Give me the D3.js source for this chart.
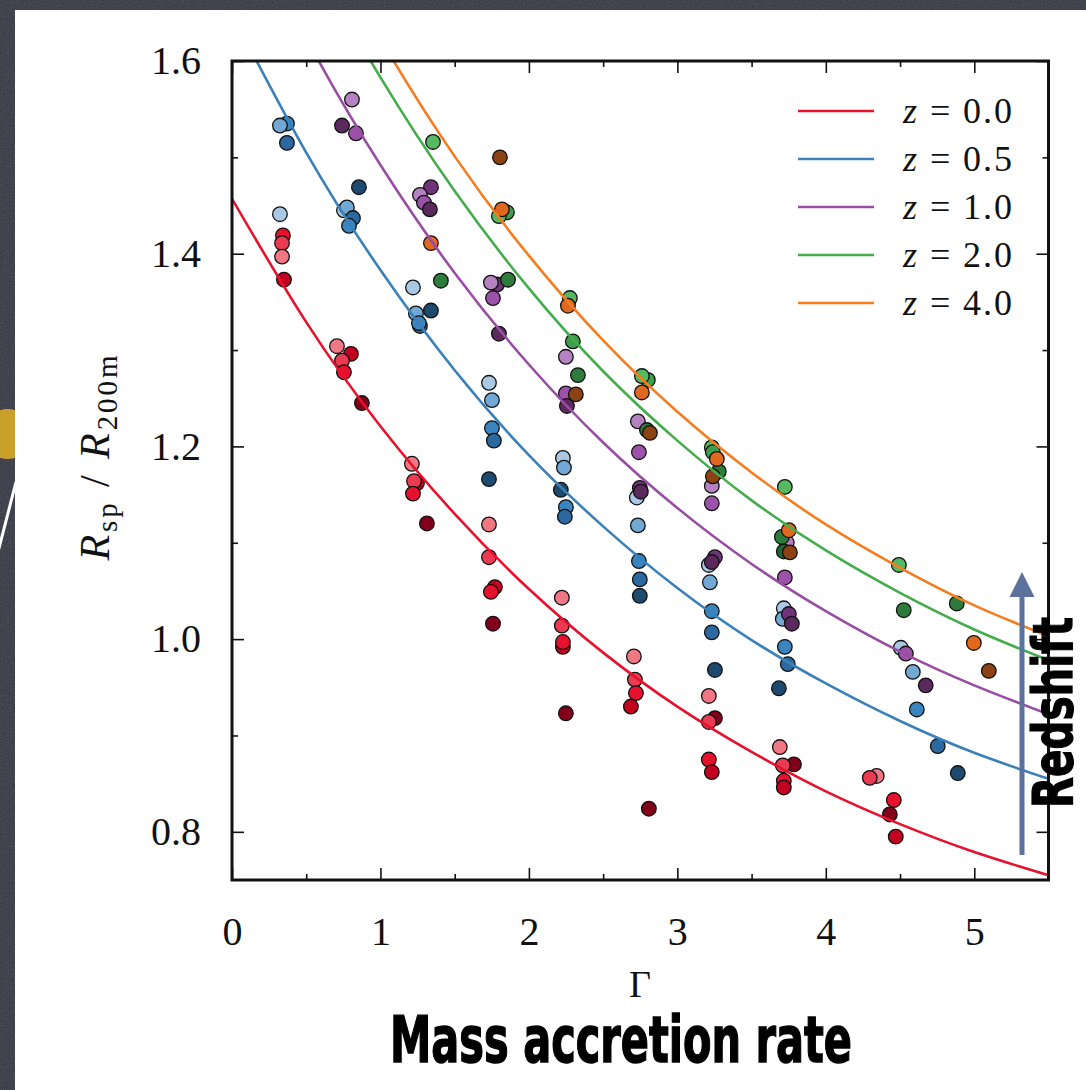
<!DOCTYPE html>
<html>
<head>
<meta charset="utf-8">
<script src="https://cdn.jsdelivr.net/npm/d3@7"></script>
<style>
  html, body { margin: 0; padding: 0; background: #393946; }
  svg { display: block; }
</style>
</head>
<body>
<svg id="chart" width="1086" height="1090"></svg>
<script>
// ---- data -------------------------------------------------------------
// Accretion-rate samples along each fitted curve
const curveGamma = [0, 0.5, 1.0, 1.5, 2.0, 2.5, 3.0, 3.5, 4.0, 4.5, 5.0, 5.5];
const fitZ00 = [1.457, 1.329, 1.221, 1.130, 1.052, 0.986, 0.930, 0.883, 0.842, 0.808, 0.779, 0.755];
const fitZ05 = [1.649, 1.505, 1.383, 1.279, 1.191, 1.117, 1.053, 0.999, 0.954, 0.915, 0.882, 0.855];
const fitZ10 = [1.779, 1.624, 1.492, 1.380, 1.285, 1.204, 1.136, 1.078, 1.029, 0.987, 0.952, 0.922];
const fitZ20 = [1.888, 1.723, 1.583, 1.465, 1.364, 1.278, 1.206, 1.144, 1.092, 1.048, 1.010, 0.978];
const fitZ40 = [1.936, 1.766, 1.623, 1.501, 1.398, 1.310, 1.236, 1.173, 1.119, 1.074, 1.035, 1.003];

const redshiftLabels = ["0.0", "0.5", "1.0", "2.0", "4.0"];

// Measured splashback radii: [Gamma, Rsp/R200m, mass bin]
const pointsZ00 = [
  [0.343,1.419,2],[0.337,1.411,1],[0.337,1.397,0],[0.350,1.373,3],
  [0.707,1.304,0],[0.801,1.296,3],[0.741,1.289,1],[0.754,1.277,2],[0.875,1.245,4],
  [1.212,1.182,0],[1.246,1.162,3],[1.226,1.164,1],[1.219,1.151,2],[1.313,1.120,4],
  [1.731,1.119,0],[1.731,1.085,1],[1.771,1.054,3],[1.744,1.049,2],[1.758,1.016,4],
  [2.222,1.043,0],[2.222,1.014,1],[2.229,0.992,3],[2.229,0.997,2],[2.249,0.923,4],
  [2.707,0.982,0],[2.714,0.958,1],[2.721,0.944,2],[2.687,0.930,3],[2.808,0.824,4],
  [3.212,0.941,0],[3.253,0.918,4],[3.212,0.914,1],[3.212,0.875,2],[3.232,0.862,3],
  [3.690,0.888,0],[3.785,0.870,4],[3.710,0.869,1],[3.717,0.853,2],[3.717,0.846,3],
  [4.343,0.858,0],[4.296,0.856,1],[4.458,0.833,2],[4.431,0.818,4],[4.471,0.795,3]
];
const pointsZ05 = [
  [0.370,1.535,2],[0.323,1.533,1],[0.370,1.515,3],[0.323,1.441,0],
  [0.754,1.445,0],[0.774,1.448,1],[0.815,1.437,3],[0.788,1.429,2],[0.855,1.469,4],
  [1.219,1.365,0],[1.239,1.338,1],[1.266,1.325,3],[1.259,1.328,2],[1.340,1.341,4],
  [1.731,1.266,0],[1.751,1.248,1],[1.751,1.219,2],[1.764,1.206,3],[1.731,1.166,4],
  [2.229,1.188,0],[2.236,1.178,1],[2.215,1.155,4],[2.249,1.137,2],[2.242,1.127,3],
  [2.727,1.147,0],[2.734,1.118,1],[2.741,1.081,2],[2.747,1.062,3],[2.747,1.045,4],
  [3.212,1.077,0],[3.219,1.059,1],[3.232,1.029,2],[3.232,1.007,3],[3.253,0.968,4],
  [3.717,1.032,0],[3.710,1.021,1],[3.724,0.992,2],[3.744,0.974,3],[3.684,0.949,4],
  [4.505,0.991,0],[4.586,0.966,1],[4.613,0.927,2],[4.754,0.889,3],[4.889,0.861,4]
];
const pointsZ10 = [
  [0.808,1.560,0],[0.741,1.533,3],[0.835,1.525,1],
  [1.340,1.469,2],[1.266,1.461,0],[1.293,1.453,1],[1.333,1.446,3],
  [1.785,1.368,2],[1.744,1.370,0],[1.758,1.354,1],[1.798,1.317,3],
  [2.249,1.293,0],[2.249,1.255,1],[2.256,1.242,3],
  [2.734,1.226,0],[2.741,1.194,1],[2.747,1.157,2],[2.754,1.153,3],
  [3.232,1.159,0],[3.232,1.141,1],[3.253,1.085,2],[3.232,1.080,3],
  [3.737,1.100,0],[3.724,1.064,1],[3.751,1.026,2],[3.771,1.016,3],
  [4.539,0.985,1],[4.673,0.952,3]
];
const pointsZ20 = [
  [1.354,1.516,0],[1.407,1.372,2],
  [1.852,1.443,1],[1.798,1.439,0],[1.859,1.373,2],
  [2.276,1.354,0],[2.296,1.309,1],[2.330,1.274,2],
  [2.801,1.269,1],[2.761,1.273,0],[2.795,1.217,2],
  [3.232,1.199,0],[3.239,1.194,1],[3.279,1.174,2],
  [3.724,1.158,0],[3.704,1.106,2],[3.717,1.091,3],
  [4.492,1.077,0],[4.525,1.030,2],
  [4.882,1.037,2]
];
const pointsZ40 = [
  [1.340,1.411,0],
  [1.805,1.500,1],[1.818,1.446,0],
  [2.263,1.346,0],[2.316,1.254,1],
  [2.761,1.256,0],[2.815,1.214,1],
  [3.266,1.187,0],[3.239,1.169,1],
  [3.751,1.113,0],[3.758,1.090,1],
  [4.997,0.996,0],[5.098,0.967,1]
];

const xTicks = [0, 1, 2, 3, 4, 5];
const xMinor = [0.5, 1.5, 2.5, 3.5, 4.5];
const yTicks = [0.8, 1.0, 1.2, 1.4, 1.6];
const yMinor = [0.9, 1.1, 1.3, 1.5];

// ---- styles ------------------------------------------------------------
const lineColors = ["#e8112d", "#3a80ba", "#984ea3", "#43ad4c", "#f57d20"];
const binColors = [
  ["#f27784", "#eb3b52", "#e8112d", "#c3001f", "#83001a"],
  ["#a8c8e3", "#72a8d3", "#3a84bf", "#2c69a0", "#1f4a6f"],
  ["#b681c0", "#9b52a8", "#6f3477", "#5b295e"],
  ["#55b961", "#3f9e4b", "#2e7c3b", "#236330"],
  ["#e0691f", "#8c4213"]
];
const fits = [fitZ00, fitZ05, fitZ10, fitZ20, fitZ40];
const pointSets = [pointsZ00, pointsZ05, pointsZ10, pointsZ20, pointsZ40];

const W = 1086, H = 1090;
const plot = { left: 232, top: 61, right: 1048.5, bottom: 880 };

const svg = d3.select("#chart");

// ---- slide backdrop ---------------------------------------------------
const defs = svg.append("defs");
const grain = defs.append("filter").attr("id", "grain")
  .attr("x", 0).attr("y", 0).attr("width", "100%").attr("height", "100%");
grain.append("feTurbulence").attr("type", "fractalNoise")
  .attr("baseFrequency", 0.9).attr("numOctaves", 2).attr("seed", 4);
grain.append("feColorMatrix").attr("type", "matrix")
  .attr("values", "0 0 0 0 1  0 0 0 0 1  0 0 0 0 1  0.33 0.33 0.33 0 -0.35");
svg.append("rect").attr("width", W).attr("height", H).attr("fill", "#393946");
svg.append("rect").attr("width", W).attr("height", H).attr("filter", "url(#grain)").attr("opacity", 0.35);
svg.append("circle").attr("cx", 8).attr("cy", 434).attr("r", 25).attr("fill", "#c9a12a");
svg.append("line").attr("x1", 16).attr("y1", 482).attr("x2", -2).attr("y2", 552)
  .attr("stroke", "#fff").attr("stroke-width", 3);
svg.append("rect").attr("x", 15).attr("y", 10).attr("width", W - 15).attr("height", H - 10).attr("fill", "#fff");

// ---- scales -------------------------------------------------------------
const x = d3.scaleLinear().domain([0, 5.5]).range([plot.left, plot.right]);
const y = d3.scaleLinear().domain([0.75, 1.6]).range([plot.bottom, plot.top]);

defs.append("clipPath").attr("id", "plotClip").append("rect")
  .attr("x", plot.left).attr("y", plot.top)
  .attr("width", plot.right - plot.left).attr("height", plot.bottom - plot.top);

// ---- points -------------------------------------------------------------
const marks = svg.append("g").attr("clip-path", "url(#plotClip)");
pointSets.forEach((pts, si) => {
  marks.append("g").selectAll("circle").data(pts).join("circle")
    .attr("cx", d => x(d[0]))
    .attr("cy", d => y(d[1]))
    .attr("r", 7.3)
    .attr("fill", d => binColors[si][d[2]])
    .attr("stroke", "#111")
    .attr("stroke-width", 1.3);
});

// ---- fitted curves --------------------------------------------------------
const line = d3.line()
  .x((d, i) => x(curveGamma[i]))
  .y(d => y(d))
  .curve(d3.curveNatural);
fits.forEach((f, i) => {
  marks.append("path").datum(f)
    .attr("d", line)
    .attr("fill", "none")
    .attr("stroke", lineColors[i])
    .attr("stroke-width", 2.6);
});

// ---- axes -----------------------------------------------------------------
const serif = "'Liberation Serif', 'DejaVu Serif', serif";
function styleAxis(g) {
  g.select(".domain").remove();
  g.selectAll(".tick line").attr("stroke", "#111").attr("stroke-width", 1.6);
  g.selectAll(".tick text").attr("font-family", serif).attr("font-size", 40).attr("fill", "#111");
}
svg.append("g").attr("transform", `translate(0,${plot.bottom})`)
  .call(d3.axisBottom(x).tickValues(xTicks).tickSize(-12).tickPadding(37).tickFormat(d3.format("d")))
  .call(styleAxis);
svg.append("g").attr("transform", `translate(0,${plot.bottom})`)
  .call(d3.axisBottom(x).tickValues(xMinor).tickSize(-6).tickFormat(""))
  .call(styleAxis);
svg.append("g").attr("transform", `translate(0,${plot.top})`)
  .call(d3.axisTop(x).tickValues(xTicks).tickSize(-12).tickFormat(""))
  .call(styleAxis);
svg.append("g").attr("transform", `translate(0,${plot.top})`)
  .call(d3.axisTop(x).tickValues(xMinor).tickSize(-6).tickFormat(""))
  .call(styleAxis);
svg.append("g").attr("transform", `translate(${plot.left},0)`)
  .call(d3.axisLeft(y).tickValues(yTicks).tickSize(-12).tickPadding(31).tickFormat(d3.format(".1f")))
  .call(styleAxis);
svg.append("g").attr("transform", `translate(${plot.left},0)`)
  .call(d3.axisLeft(y).tickValues(yMinor).tickSize(-6).tickFormat(""))
  .call(styleAxis);
svg.append("g").attr("transform", `translate(${plot.right},0)`)
  .call(d3.axisRight(y).tickValues(yTicks).tickSize(-12).tickFormat(""))
  .call(styleAxis);
svg.append("g").attr("transform", `translate(${plot.right},0)`)
  .call(d3.axisRight(y).tickValues(yMinor).tickSize(-6).tickFormat(""))
  .call(styleAxis);

svg.append("rect")
  .attr("x", plot.left).attr("y", plot.top)
  .attr("width", plot.right - plot.left).attr("height", plot.bottom - plot.top)
  .attr("fill", "none").attr("stroke", "#111").attr("stroke-width", 3);

// ---- legend ---------------------------------------------------------------
const legend = svg.append("g");
redshiftLabels.forEach((lab, i) => {
  const ly = 111 + i * 48;
  legend.append("line").attr("x1", 798).attr("x2", 874).attr("y1", ly).attr("y2", ly)
    .attr("stroke", lineColors[i]).attr("stroke-width", 2.6);
  const t = legend.append("text").attr("x", 903).attr("y", ly + 12)
    .attr("font-family", serif).attr("font-size", 36).attr("fill", "#111")
    .attr("textLength", 109).attr("lengthAdjust", "spacing");
  t.append("tspan").attr("font-style", "italic").text("z");
  t.append("tspan").text(" = " + lab);
});

// ---- axis titles --------------------------------------------------------
const yTitle = svg.append("text")
  .attr("transform", "translate(109,458) rotate(-90)")
  .attr("text-anchor", "middle")
  .attr("font-family", serif).attr("font-size", 42).attr("fill", "#111")
  .attr("textLength", 205).attr("lengthAdjust", "spacing");
yTitle.append("tspan").attr("font-style", "italic").text("R");
yTitle.append("tspan").attr("font-size", 29).attr("dy", 8).text("sp");
yTitle.append("tspan").attr("dy", -8).text(" / ");
yTitle.append("tspan").attr("font-style", "italic").text("R");
yTitle.append("tspan").attr("font-size", 29).attr("dy", 8).text("200m");

svg.append("text").attr("x", 640).attr("y", 997)
  .attr("text-anchor", "middle")
  .attr("font-family", serif).attr("font-size", 38).attr("fill", "#111")
  .text("Γ");

const boldNarrow = "'Liberation Sans Narrow', 'DejaVu Sans Condensed', 'Arial Narrow', sans-serif";
svg.append("text").attr("x", 390).attr("y", 1062)
  .attr("font-family", boldNarrow).attr("font-weight", "bold")
  .attr("font-size", 64).attr("fill", "#000")
  .attr("stroke", "#000").attr("stroke-width", 1.4)
  .attr("textLength", 462).attr("lengthAdjust", "spacingAndGlyphs")
  .text("Mass accretion rate");

// ---- redshift arrow ---------------------------------------------------------
const arrowColor = "#5b739c";
svg.append("line").attr("x1", 1022).attr("x2", 1022).attr("y1", 855).attr("y2", 592)
  .attr("stroke", arrowColor).attr("stroke-width", 5);
svg.append("path").attr("d", "M1022,572 L1034.5,597 L1009.5,597 Z").attr("fill", arrowColor);

svg.append("text")
  .attr("transform", "translate(1072,808) rotate(-90)")
  .attr("font-family", boldNarrow).attr("font-weight", "bold")
  .attr("font-size", 56).attr("fill", "#000")
  .attr("stroke", "#000").attr("stroke-width", 1.2)
  .attr("textLength", 191).attr("lengthAdjust", "spacingAndGlyphs")
  .text("Redshift");
</script>
</body>
</html>
